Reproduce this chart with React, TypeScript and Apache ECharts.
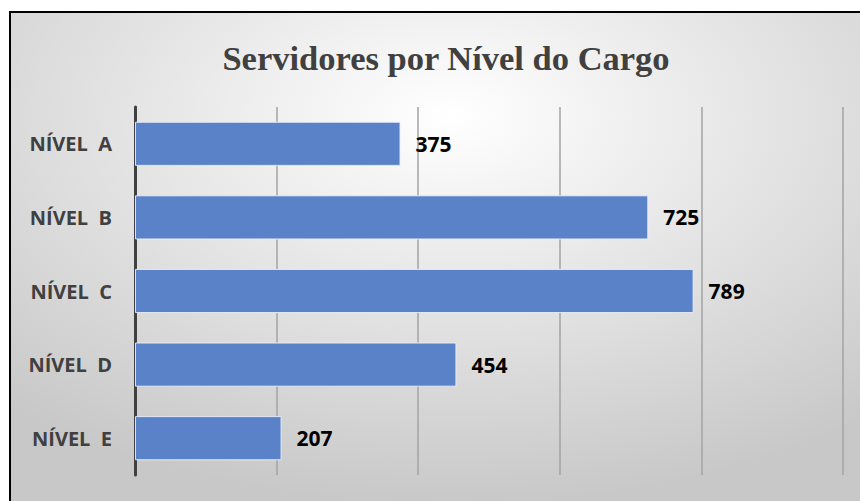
import React, { useEffect, useRef } from "react";
import * as echarts from "echarts";

const categories = ["NÍVEL  A", "NÍVEL  B", "NÍVEL  C", "NÍVEL  D", "NÍVEL  E"];
const values = [375, 725, 789, 454, 207];
const titleText = "Servidores por Nível do Cargo";

export default function App() {
  const ref = useRef<HTMLDivElement>(null);
  useEffect(() => {
    document.body.style.margin = "0";
    const chart = echarts.init(ref.current!, undefined, { renderer: "svg" });
    chart.setOption({
      animation: false,
      backgroundColor: "#ffffff",
      graphic: [
        {
          type: "rect",
          z: -10,
          silent: true,
          shape: { x: 10, y: 12, width: 880, height: 520 },
          style: {
            fill: new echarts.graphic.RadialGradient(0.5, 0.2, 0.75, [
              { offset: 0, color: "#ffffff" },
              { offset: 1, color: "#c8c8c8" },
            ]),
            stroke: "#000000",
            lineWidth: 2,
          },
        },
      ],
      title: {
        text: titleText,
        left: 441,
        textAlign: "center",
        top: 35,
        textStyle: {
          fontFamily: "Liberation Serif",
          fontWeight: "bold",
          fontSize: 34.5,
          color: "#404040",
        },
      },
      grid: { left: 135, right: 17, top: 107, bottom: 26, containLabel: false },
      xAxis: {
        type: "value",
        min: 0,
        max: 1000,
        interval: 200,
        axisLabel: { show: false },
        axisLine: { show: false },
        axisTick: { show: false },
        splitLine: { show: true, lineStyle: { color: "#a3a3a3", width: 1.5 } },
      },
      yAxis: {
        type: "category",
        data: categories,
        inverse: true,
        axisLine: { show: true, lineStyle: { color: "#404040", width: 3 } },
        axisTick: { show: false },
        axisLabel: {
          margin: 23,
          fontFamily: "Open Sans",
          fontWeight: "bold",
          fontSize: 20,
          color: "#404040",
        },
      },
      series: [
        {
          type: "bar",
          data: values,
          barCategoryGap: "40%",
          itemStyle: {
            color: "#5a82c8",
            borderColor: "rgba(235,240,250,0.9)",
            borderWidth: 1,
          },
          label: {
            show: true,
            position: "right",
            distance: 15,
            fontFamily: "Open Sans",
            fontWeight: "bold",
            fontSize: 21,
            color: "#000000",
          },
        },
      ],
    });
    return () => chart.dispose();
  }, []);
  return <div ref={ref} style={{ width: 860, height: 501 }} />;
}
